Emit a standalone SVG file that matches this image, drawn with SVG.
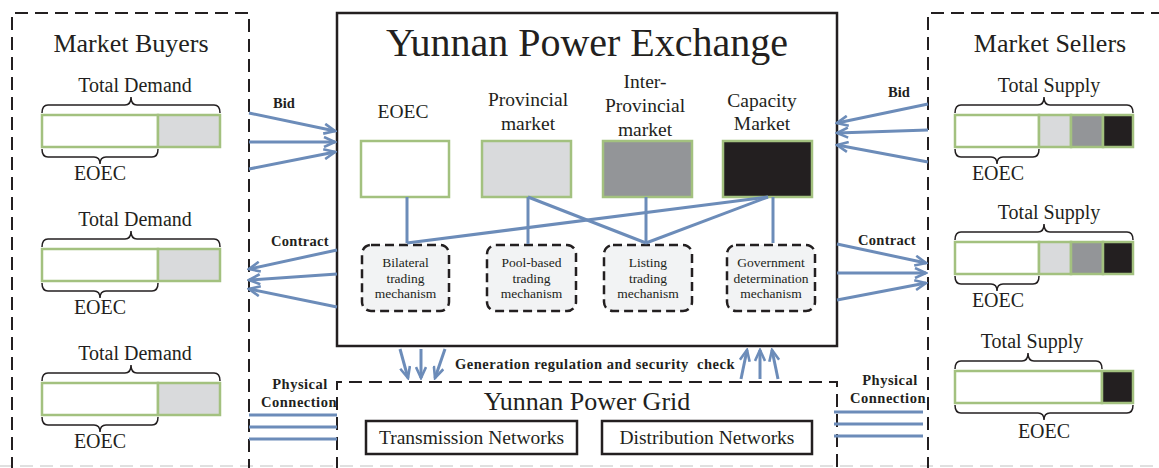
<svg xmlns="http://www.w3.org/2000/svg" width="1159" height="468" viewBox="0 0 1159 468">
<defs>
<style>
.serif{font-family:"Liberation Serif","Times New Roman",serif;fill:#231f20}
.bold{font-family:"Liberation Serif","Times New Roman",serif;font-weight:bold;fill:#231f20}
.dash{fill:none;stroke:#231f20;stroke-width:2;stroke-dasharray:13 7}
.bar{stroke:#a3c17f;stroke-width:2.5}
.brace{fill:none;stroke:#231f20;stroke-width:1.5}
.mkt{stroke:#a3c17f;stroke-width:2.5}
.mech{fill:#f2f3f4;stroke:#231f20;stroke-width:2.5;stroke-dasharray:9 5}
.blue{fill:none;stroke:#6c8cb9;stroke-width:3}
.arr{fill:none;stroke:#6c8cb9;stroke-width:3;marker-end:url(#ah)}
.box{fill:#fff;stroke:#231f20;stroke-width:2.5}
</style>
<marker id="ah" viewBox="0 0 14 12" refX="12" refY="6" markerWidth="14" markerHeight="12" markerUnits="userSpaceOnUse" orient="auto">
<path d="M1,1 L12,6 L1,11" fill="none" stroke="#6c8cb9" stroke-width="2.6"/>
</marker>
</defs>
<rect width="1159" height="468" fill="#fff"/>
<line x1="0" y1="466" x2="1159" y2="466" stroke="#e0e0e0" stroke-width="2" stroke-dasharray="13 7"/>

<g id="buyers">
<path class="dash" d="M12,470 V13 H249 V470"/>
<text class="serif" x="131" y="52" font-size="26" text-anchor="middle">Market Buyers</text>
<g id="buyer1">
<text class="serif" x="135" y="92" font-size="20" text-anchor="middle">Total Demand</text>
<path class="brace" d="M42,113 Q42,105 48,105 H125 Q131,105 131,97 Q131,105 137,105 H214 Q220,105 220,113"/>
<rect class="bar" x="42" y="115" width="116" height="32" fill="#fff"/>
<rect class="bar" x="158" y="115" width="62" height="32" fill="#d9dadc"/>
<path class="brace" d="M42,149 Q42,157 48,157 H94 Q100,157 100,164 Q100,157 106,157 H152 Q158,157 158,149"/>
<text class="serif" x="100" y="180" font-size="20" text-anchor="middle">EOEC</text>
</g>
<g id="buyer2" transform="translate(0,134)">
<text class="serif" x="135" y="92" font-size="20" text-anchor="middle">Total Demand</text>
<path class="brace" d="M42,113 Q42,105 48,105 H125 Q131,105 131,97 Q131,105 137,105 H214 Q220,105 220,113"/>
<rect class="bar" x="42" y="115" width="116" height="32" fill="#fff"/>
<rect class="bar" x="158" y="115" width="62" height="32" fill="#d9dadc"/>
<path class="brace" d="M42,149 Q42,157 48,157 H94 Q100,157 100,164 Q100,157 106,157 H152 Q158,157 158,149"/>
<text class="serif" x="100" y="180" font-size="20" text-anchor="middle">EOEC</text>
</g>
<g id="buyer3" transform="translate(0,268)">
<text class="serif" x="135" y="92" font-size="20" text-anchor="middle">Total Demand</text>
<path class="brace" d="M42,113 Q42,105 48,105 H125 Q131,105 131,97 Q131,105 137,105 H214 Q220,105 220,113"/>
<rect class="bar" x="42" y="115" width="116" height="32" fill="#fff"/>
<rect class="bar" x="158" y="115" width="62" height="32" fill="#d9dadc"/>
<path class="brace" d="M42,149 Q42,157 48,157 H94 Q100,157 100,164 Q100,157 106,157 H152 Q158,157 158,149"/>
<text class="serif" x="100" y="180" font-size="20" text-anchor="middle">EOEC</text>
</g>
</g>

<g id="sellers">
<path class="dash" d="M928,470 V13 H1165"/>
<text class="serif" x="1050" y="52" font-size="26" text-anchor="middle">Market Sellers</text>
<g id="seller1">
<text class="serif" x="1049" y="92" font-size="20" text-anchor="middle">Total Supply</text>
<path class="brace" d="M955,113 Q955,105 961,105 H1038 Q1044,105 1044,97 Q1044,105 1050,105 H1127 Q1133,105 1133,113"/>
<rect class="bar" x="955" y="115" width="84" height="32" fill="#fff"/>
<rect class="bar" x="1039" y="115" width="32" height="32" fill="#d9dadc"/>
<rect class="bar" x="1071" y="115" width="32" height="32" fill="#939598"/>
<rect class="bar" x="1103" y="115" width="30" height="32" fill="#231f20"/>
<path class="brace" d="M955,149 Q955,157 961,157 H991 Q997,157 997,164 Q997,157 1003,157 H1033 Q1039,157 1039,149"/>
<text class="serif" x="998" y="180" font-size="20" text-anchor="middle">EOEC</text>
</g>
<g id="seller2" transform="translate(0,127)">
<text class="serif" x="1049" y="92" font-size="20" text-anchor="middle">Total Supply</text>
<path class="brace" d="M955,113 Q955,105 961,105 H1038 Q1044,105 1044,97 Q1044,105 1050,105 H1127 Q1133,105 1133,113"/>
<rect class="bar" x="955" y="115" width="84" height="32" fill="#fff"/>
<rect class="bar" x="1039" y="115" width="32" height="32" fill="#d9dadc"/>
<rect class="bar" x="1071" y="115" width="32" height="32" fill="#939598"/>
<rect class="bar" x="1103" y="115" width="30" height="32" fill="#231f20"/>
<path class="brace" d="M955,149 Q955,157 961,157 H991 Q997,157 997,164 Q997,157 1003,157 H1033 Q1039,157 1039,149"/>
<text class="serif" x="998" y="180" font-size="20" text-anchor="middle">EOEC</text>
</g>
<g id="seller3">
<text class="serif" x="1032" y="348" font-size="20" text-anchor="middle">Total Supply</text>
<path class="brace" d="M955,369 Q955,361 961,361 H1022 Q1028,361 1028,353 Q1028,361 1034,361 H1096 Q1102,361 1102,369"/>
<rect class="bar" x="955" y="371" width="147" height="32" fill="#fff"/>
<rect class="bar" x="1102" y="371" width="31" height="32" fill="#231f20"/>
<path class="brace" d="M955,405 Q955,413 961,413 H1038 Q1044,413 1044,420 Q1044,413 1050,413 H1127 Q1133,413 1133,405"/>
<text class="serif" x="1044" y="438" font-size="20" text-anchor="middle">EOEC</text>
</g>
</g>

<g id="exchange">
<rect x="337" y="13" width="500" height="333" fill="none" stroke="#231f20" stroke-width="2.5"/>
<text class="serif" x="587" y="56" font-size="40" text-anchor="middle">Yunnan Power Exchange</text>
</g>

<g id="market-eoec">
<text class="serif" x="403" y="118" font-size="19.5" text-anchor="middle">EOEC</text>
<rect class="mkt" x="361" y="141" width="88" height="56" fill="#fff"/>
</g>
<g id="market-provincial">
<text class="serif" x="528" y="106" font-size="19.5" text-anchor="middle">Provincial</text>
<text class="serif" x="528" y="130" font-size="19.5" text-anchor="middle">market</text>
<rect class="mkt" x="482" y="141" width="89" height="56" fill="#d9dadc"/>
</g>
<g id="market-interprovincial">
<text class="serif" x="645" y="88" font-size="19.5" text-anchor="middle">Inter-</text>
<text class="serif" x="645" y="112" font-size="19.5" text-anchor="middle">Provincial</text>
<text class="serif" x="645" y="136" font-size="19.5" text-anchor="middle">market</text>
<rect class="mkt" x="603" y="141" width="89" height="56" fill="#939598"/>
</g>
<g id="market-capacity">
<text class="serif" x="762" y="107" font-size="19.5" text-anchor="middle">Capacity</text>
<text class="serif" x="762" y="130" font-size="19.5" text-anchor="middle">Market</text>
<rect class="mkt" x="723" y="141" width="89" height="56" fill="#231f20"/>
</g>

<g id="mech-bilateral">
<rect class="mech" x="362" y="245" width="87" height="66" rx="9"/>
<text class="serif" font-size="13.5" text-anchor="middle"><tspan x="405.5" y="267">Bilateral</tspan><tspan x="405.5" y="283">trading</tspan><tspan x="405.5" y="298">mechanism</tspan></text>
</g>
<g id="mech-pool">
<rect class="mech" x="487" y="245" width="89" height="66" rx="9"/>
<text class="serif" font-size="13.5" text-anchor="middle"><tspan x="531.5" y="267">Pool-based</tspan><tspan x="531.5" y="283">trading</tspan><tspan x="531.5" y="298">mechanism</tspan></text>
</g>
<g id="mech-listing">
<rect class="mech" x="604" y="245" width="88" height="66" rx="9"/>
<text class="serif" font-size="13.5" text-anchor="middle"><tspan x="648" y="267">Listing</tspan><tspan x="648" y="283">trading</tspan><tspan x="648" y="298">mechanism</tspan></text>
</g>
<g id="mech-government">
<rect class="mech" x="727" y="245" width="88" height="66" rx="9"/>
<text class="serif" font-size="13.5" text-anchor="middle"><tspan x="771" y="267">Government</tspan><tspan x="771" y="283">determination</tspan><tspan x="771" y="298">mechanism</tspan></text>
</g>

<g id="grid">
<path class="dash" d="M337,470 V382 H837 V470"/>
<text class="serif" x="587" y="410" font-size="26" text-anchor="middle">Yunnan Power Grid</text>
<g id="transmission">
<rect class="box" x="366" y="421" width="211" height="33"/>
<text class="serif" x="471.5" y="444" font-size="19.5" text-anchor="middle">Transmission Networks</text>
</g>
<g id="distribution">
<rect class="box" x="602" y="421" width="210" height="33"/>
<text class="serif" x="707" y="444" font-size="19.5" text-anchor="middle">Distribution Networks</text>
</g>
</g>

<g id="connectors">
<line class="blue" x1="407" y1="197" x2="407" y2="243"/>
<line class="blue" x1="407" y1="243" x2="768" y2="197"/>
<line class="blue" x1="528" y1="197" x2="528" y2="244"/>
<line class="blue" x1="528" y1="197" x2="646" y2="243"/>
<line class="blue" x1="646" y1="197" x2="646" y2="243"/>
<line class="blue" x1="768" y1="197" x2="646" y2="243"/>
<line class="blue" x1="773" y1="197" x2="773" y2="243"/>

<line class="arr" x1="249" y1="113" x2="335" y2="131"/>
<line class="arr" x1="249" y1="142" x2="335" y2="142"/>
<line class="arr" x1="249" y1="169" x2="335" y2="152"/>
<text class="bold" x="284" y="108" font-size="14.5" text-anchor="middle">Bid</text>

<line class="arr" x1="337" y1="250" x2="249" y2="269"/>
<line class="arr" x1="337" y1="274" x2="249" y2="280"/>
<line class="arr" x1="337" y1="307" x2="249" y2="289"/>
<text class="bold" x="300" y="246" font-size="14.5" text-anchor="middle" letter-spacing="0.3">Contract</text>

<line class="arr" x1="928" y1="104" x2="837" y2="123"/>
<line class="arr" x1="928" y1="130" x2="837" y2="133"/>
<line class="arr" x1="928" y1="162" x2="837" y2="145"/>
<text class="bold" x="899" y="97" font-size="14.5" text-anchor="middle">Bid</text>

<line class="arr" x1="837" y1="244" x2="926" y2="263"/>
<line class="arr" x1="837" y1="273" x2="926" y2="273"/>
<line class="arr" x1="837" y1="300" x2="926" y2="283"/>
<text class="bold" x="887" y="245" font-size="14.5" text-anchor="middle" letter-spacing="0.3">Contract</text>

<line class="blue" x1="249" y1="415" x2="337" y2="415"/>
<line class="blue" x1="249" y1="427" x2="337" y2="427"/>
<line class="blue" x1="249" y1="439" x2="337" y2="439"/>
<text class="bold" font-size="14.5" text-anchor="middle" letter-spacing="0.5"><tspan x="300" y="389">Physical</tspan><tspan x="299" y="407">Connection</tspan></text>

<line class="blue" x1="834" y1="412" x2="923" y2="412"/>
<line class="blue" x1="834" y1="424" x2="923" y2="424"/>
<line class="blue" x1="834" y1="436" x2="923" y2="436"/>
<text class="bold" font-size="14.5" text-anchor="middle" letter-spacing="0.5"><tspan x="890" y="385">Physical</tspan><tspan x="888" y="403">Connection</tspan></text>

<line class="arr" x1="400" y1="349" x2="408" y2="378"/>
<line class="arr" x1="421" y1="349" x2="421" y2="378"/>
<line class="arr" x1="445" y1="349" x2="435" y2="378"/>
<line class="arr" x1="741" y1="379" x2="747" y2="350"/>
<line class="arr" x1="760" y1="379" x2="760" y2="350"/>
<line class="arr" x1="778" y1="379" x2="772" y2="350"/>
<text class="bold" x="595" y="369" font-size="14.5" text-anchor="middle" xml:space="preserve" letter-spacing="0.5">Generation regulation and security  check</text>
</g>
</svg>
